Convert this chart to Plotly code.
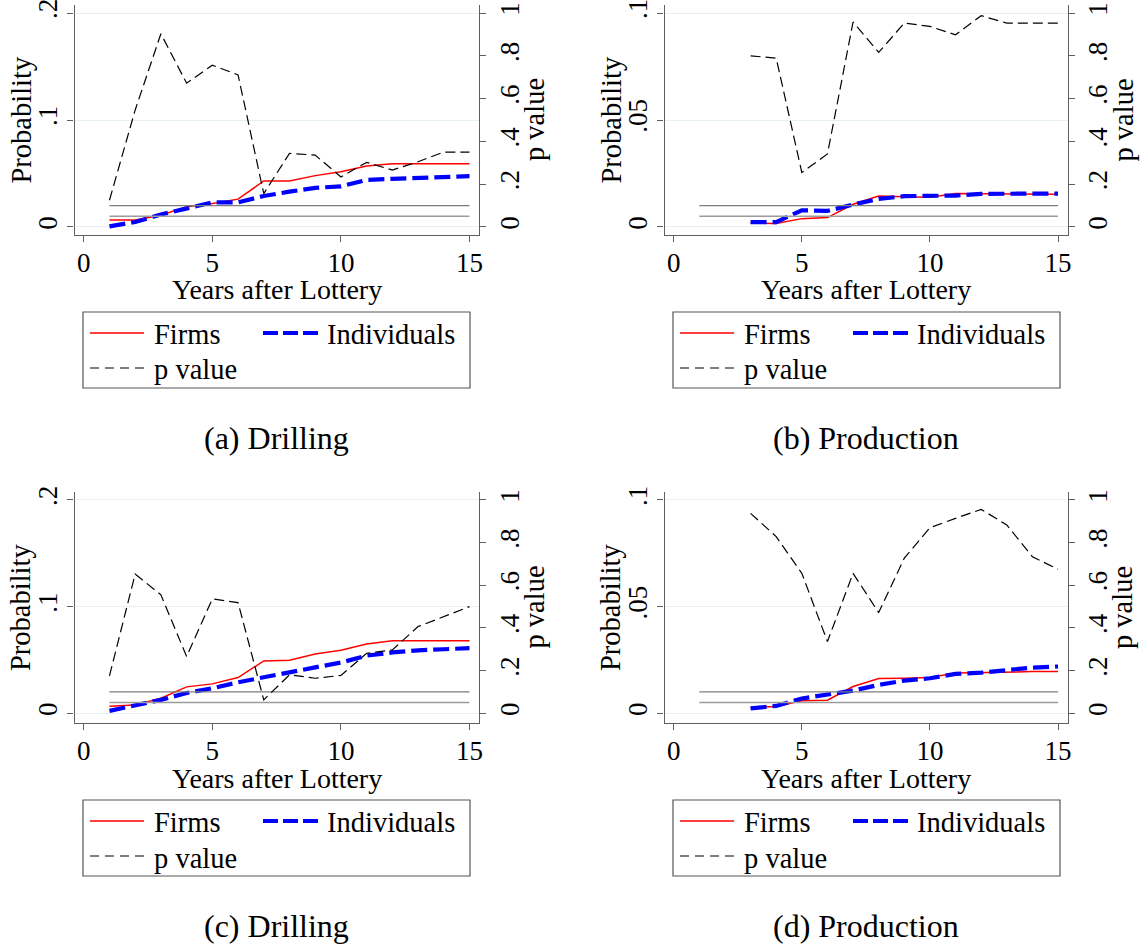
import plotly.graph_objects as go

W, H = 1141, 944
FONT = "Liberation Serif, Times New Roman, serif"

# ---------------- data ----------------
years_a = list(range(1, 16))
firms_a = [0.0066, 0.0066, 0.011, 0.019, 0.022, 0.026, 0.043, 0.043, 0.048, 0.0516, 0.057, 0.059, 0.059, 0.059, 0.059]
indiv_a = [0.0006, 0.0047, 0.0116, 0.017, 0.023, 0.023, 0.029, 0.033, 0.0366, 0.038, 0.044, 0.045, 0.046, 0.047, 0.0475]
pval_a = [0.125, 0.547, 0.903, 0.672, 0.756, 0.711, 0.156, 0.344, 0.336, 0.234, 0.302, 0.266, 0.305, 0.35, 0.35]

years_b = list(range(3, 16))
firms_b = [0.0019, 0.0016, 0.0039, 0.0044, 0.0106, 0.0145, 0.0141, 0.0139, 0.0156, 0.0156, 0.0156, 0.0156, 0.0153]
indiv_b = [0.0023, 0.0023, 0.0078, 0.0075, 0.0105, 0.0131, 0.0144, 0.0144, 0.0147, 0.0155, 0.0156, 0.0156, 0.0156]
pval_b = [0.80, 0.789, 0.255, 0.341, 0.958, 0.816, 0.953, 0.9375, 0.898, 0.9875, 0.953, 0.953, 0.953]

years_c = list(range(1, 16))
firms_c = [0.0066, 0.0078, 0.014, 0.0247, 0.0275, 0.0334, 0.049, 0.0497, 0.0556, 0.059, 0.065, 0.068, 0.068, 0.068, 0.068]
indiv_c = [0.0022, 0.0069, 0.0125, 0.019, 0.0234, 0.029, 0.034, 0.039, 0.043, 0.0475, 0.054, 0.057, 0.059, 0.060, 0.061]
pval_c = [0.175, 0.653, 0.555, 0.266, 0.536, 0.519, 0.0625, 0.18, 0.164, 0.177, 0.281, 0.297, 0.406, 0.453, 0.50]

years_d = list(range(3, 16))
firms_d = [0.0027, 0.0031, 0.0058, 0.0061, 0.0125, 0.0163, 0.0164, 0.0167, 0.0188, 0.019, 0.0195, 0.0195, 0.0195]
indiv_d = [0.0023, 0.0034, 0.0069, 0.0089, 0.0106, 0.0133, 0.0153, 0.0164, 0.0184, 0.019, 0.0203, 0.0214, 0.0219]
pval_d = [0.9375, 0.828, 0.656, 0.336, 0.656, 0.472, 0.727, 0.870, 0.914, 0.956, 0.883, 0.734, 0.675]

ref_years = list(range(1, 16))
ref_p10 = [0.10] * 15
ref_p05 = [0.05] * 15

x_ticks = [0, 5, 10, 15]
p_ticks = [0, 0.2, 0.4, 0.6, 0.8, 1]
p_ticktext = ["0", ".2", ".4", ".6", ".8", "1"]
prob_ticks_drill = [0, 0.1, 0.2]
prob_text_drill = ["0", ".1", ".2"]
prob_ticks_prod = [0, 0.05, 0.1]
prob_text_prod = ["0", ".05", ".1"]

captions = ["(a) Drilling", "(b) Production", "(c) Drilling", "(d) Production"]
series_labels = ["Firms", "Individuals", "p value"]
x_title = "Years after Lottery"
y_title = "Probability"
y2_title = "p value"

# ---------------- layout helpers ----------------
def px(x):
    return x / W

def py(y):
    return 1 - y / H

panels = [
    dict(years=years_a, firms=firms_a, indiv=indiv_a, pval=pval_a, left=74.5, right=479, top=5, bottom=235,
         ticks=prob_ticks_drill, ticktext=prob_text_drill, yr=[-0.0075, 0.2075]),
    dict(years=years_b, firms=firms_b, indiv=indiv_b, pval=pval_b, left=664.5, right=1067.5, top=5, bottom=235,
         ticks=prob_ticks_prod, ticktext=prob_text_prod, yr=[-0.00375, 0.10375]),
    dict(years=years_c, firms=firms_c, indiv=indiv_c, pval=pval_c, left=74.5, right=479, top=492, bottom=723,
         ticks=prob_ticks_drill, ticktext=prob_text_drill, yr=[-0.0092, 0.2075]),
    dict(years=years_d, firms=firms_d, indiv=indiv_d, pval=pval_d, left=664.5, right=1067.5, top=492, bottom=723,
         ticks=prob_ticks_prod, ticktext=prob_text_prod, yr=[-0.0046, 0.10375]),
]

AXCOL = "#5f5f5f"
GRID = "#e6eff1"
TICKFONT = dict(family=FONT, size=27, color="black")

fig = go.Figure()
layout = dict(
    width=W, height=H, margin=dict(l=0, r=0, t=0, b=0, autoexpand=False),
    paper_bgcolor="white", plot_bgcolor="white", showlegend=False,
    font=dict(family=FONT, color="black"),
)
shapes = []
annotations = []

for i, p in enumerate(panels):
    n = i + 1
    xs = "" if n == 1 else str(n)
    ya = "" if n == 1 else str(n)
    yr_name = str(n + 4)
    xref = "x" + xs
    yref = "y" + ya
    y2ref = "y" + yr_name
    xdom = [px(p["left"]), px(p["right"])]
    ydom = [py(p["bottom"]), py(p["top"])]
    prange = [p["yr"][0] * (1.0 / p["ticks"][-1]), p["yr"][1] * (1.0 / p["ticks"][-1])]

    layout["xaxis" + xs] = dict(
        domain=xdom, range=[-0.36, 15.37], anchor=yref, tickvals=x_ticks, automargin=False,
        ticklabeloverflow="allow", ticklabelstandoff=-3,
        ticks="outside", ticklen=6, tickcolor=AXCOL, showline=True, linecolor=AXCOL, linewidth=1.3,
        showgrid=False, zeroline=False, tickfont=TICKFONT, fixedrange=True,
    )
    layout["yaxis" + ya] = dict(
        domain=ydom, range=p["yr"], anchor=xref, tickvals=p["ticks"], ticktext=p["ticktext"],
        automargin=False, ticklabeloverflow="allow",
        tickangle=-90, ticks="outside", ticklen=6, tickcolor=AXCOL, showline=True, linecolor=AXCOL,
        linewidth=1.3, showgrid=True, gridcolor=GRID, gridwidth=1.2, zeroline=False, tickfont=TICKFONT,
    )
    layout["yaxis" + yr_name] = dict(
        overlaying=yref, side="right", anchor=xref, range=prange, tickvals=p_ticks, ticktext=p_ticktext,
        automargin=False, ticklabeloverflow="allow",
        tickangle=-90, ticks="outside", ticklen=6, tickcolor=AXCOL, showline=True, linecolor=AXCOL,
        linewidth=1.3, showgrid=False, zeroline=False, tickfont=TICKFONT,
    )

    # reference lines (p = .1 and p = .05)
    fig.add_trace(go.Scatter(x=ref_years, y=ref_p10, xaxis=xref, yaxis=y2ref, mode="lines",
                             line=dict(color="#7d7d7d", width=1.4), hoverinfo="skip"))
    fig.add_trace(go.Scatter(x=ref_years, y=ref_p05, xaxis=xref, yaxis=y2ref, mode="lines",
                             line=dict(color="#9c9c9c", width=1.6), hoverinfo="skip"))
    # p value
    fig.add_trace(go.Scatter(x=p["years"], y=p["pval"], xaxis=xref, yaxis=y2ref, mode="lines",
                             name=series_labels[2], line=dict(color="black", width=1.2, dash="10px,5px")))
    # firms
    fig.add_trace(go.Scatter(x=p["years"], y=p["firms"], xaxis=xref, yaxis=yref, mode="lines",
                             name=series_labels[0], line=dict(color="#ff0000", width=1.5)))
    # individuals
    fig.add_trace(go.Scatter(x=p["years"], y=p["indiv"], xaxis=xref, yaxis=yref, mode="lines",
                             name=series_labels[1], line=dict(color="#0000ff", width=4.2, dash="16px,6px")))

    cx = (p["left"] + p["right"]) / 2
    cy = (p["top"] + p["bottom"]) / 2
    # axis titles
    annotations.append(dict(text=y_title, x=px(p["left"] - 54), y=py(cy), xref="paper", yref="paper",
                            textangle=-90, showarrow=False, font=dict(family=FONT, size=28.5),
                            xanchor="center", yanchor="middle"))
    annotations.append(dict(text=y2_title, x=px(p["right"] + 55), y=py(cy), xref="paper", yref="paper",
                            textangle=-90, showarrow=False, font=dict(family=FONT, size=28.5),
                            xanchor="center", yanchor="middle"))
    annotations.append(dict(text=x_title, x=px(cx), y=py(p["bottom"] + 55), xref="paper", yref="paper",
                            showarrow=False, font=dict(family=FONT, size=28),
                            xanchor="center", yanchor="middle"))

    # legend box (drawn manually to match the Stata layout)
    bx = p["left"] + 8.5
    by = p["bottom"] + 77
    shapes.append(dict(type="rect", xref="paper", yref="paper", x0=px(bx), x1=px(bx + 387),
                       y0=py(by + 76), y1=py(by), line=dict(color="#555555", width=1.2), fillcolor="white"))
    shapes.append(dict(type="line", xref="paper", yref="paper", x0=px(bx + 7), x1=px(bx + 61),
                       y0=py(by + 21), y1=py(by + 21), line=dict(color="#ff0000", width=1.5)))
    shapes.append(dict(type="line", xref="paper", yref="paper", x0=px(bx + 180), x1=px(bx + 236),
                       y0=py(by + 21), y1=py(by + 21), line=dict(color="#0000ff", width=4, dash="15px,5px")))
    shapes.append(dict(type="line", xref="paper", yref="paper", x0=px(bx + 7), x1=px(bx + 61),
                       y0=py(by + 56), y1=py(by + 56), line=dict(color="black", width=1.2, dash="9px,6px")))
    for txt, tx, ty in [(series_labels[0], bx + 69, by + 22), (series_labels[1], bx + 242, by + 22),
                        (series_labels[2], bx + 69, by + 58)]:
        annotations.append(dict(text=txt, x=px(tx), y=py(ty), xref="paper", yref="paper", showarrow=False,
                                font=dict(family=FONT, size=28.5), xanchor="left", yanchor="middle"))

    # caption
    annotations.append(dict(text=captions[i], x=px(cx), y=py(p["bottom"] + 203), xref="paper",
                            yref="paper", showarrow=False, font=dict(family=FONT, size=32),
                            xanchor="center", yanchor="middle"))

layout["shapes"] = shapes
layout["annotations"] = annotations
fig.update_layout(**layout)
fig.write_html("out.html")
